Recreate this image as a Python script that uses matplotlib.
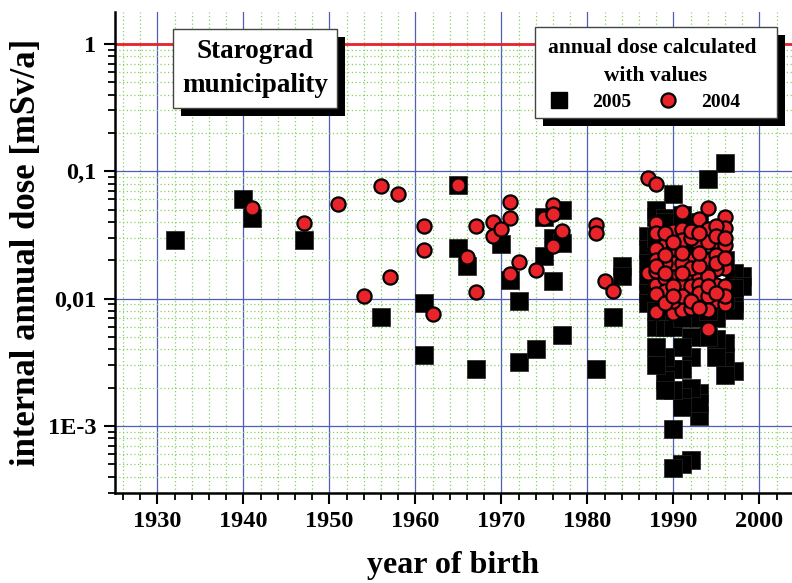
import matplotlib
matplotlib.use("Agg")
import matplotlib.pyplot as plt
import matplotlib.ticker as mticker
from matplotlib.patches import Rectangle
from matplotlib.lines import Line2D

plt.rcParams['font.family'] = ['Liberation Serif', 'DejaVu Serif']
plt.rcParams['font.weight'] = 'bold'

# annual dose calculated with 2005 values (black squares)
year_2005 = [1932, 1940, 1941, 1947, 1956, 1961, 1961, 1965, 1965, 1966, 1967,
             1970, 1971, 1972, 1972, 1974, 1975, 1975, 1976, 1976, 1977, 1977, 1977,
             1981, 1983, 1984, 1984,
             1996, 1994, 1990, 1988, 1988, 1989, 1987, 1987, 1987, 1987, 1987, 1987,
             1998, 1997, 1997, 1997, 1998,
             1997, 1996, 1996, 1996, 1995, 1995, 1994,
             1993, 1993, 1993, 1992, 1992, 1992, 1992,
             1991, 1991, 1991, 1991, 1991, 1990, 1990, 1990, 1990,
             1989, 1989, 1989, 1988, 1988, 1988, 1989, 1990,
             1988, 1989, 1990, 1991, 1992, 1993, 1994, 1995, 1996, 1996,
             1995, 1993, 1991, 1989, 1994, 1997, 1988, 1990, 1992, 1994, 1993, 1991]
dose_2005 = [0.029, 0.061, 0.043, 0.029, 0.0072, 0.0092, 0.0036, 0.078, 0.0248, 0.018, 0.0028,
             0.0268, 0.0141, 0.0095, 0.0032, 0.0040, 0.044, 0.0215, 0.030, 0.0137, 0.050, 0.0273, 0.0052,
             0.0028, 0.0072, 0.018, 0.015,
             0.117, 0.087, 0.066, 0.044, 0.050, 0.043, 0.031, 0.0245, 0.019, 0.014, 0.011, 0.0093,
             0.015, 0.0093, 0.0082, 0.016, 0.0125,
             0.0027, 0.0035, 0.0025, 0.0045, 0.0048, 0.0035, 0.005,
             0.0018, 0.0012, 0.0015, 0.005, 0.0035, 0.002, 0.00054,
             0.0042, 0.0028, 0.0017, 0.0014, 0.0005, 0.0028, 0.0019, 0.00094, 0.00047,
             0.0035, 0.0023, 0.0019, 0.0042, 0.003, 0.006, 0.006, 0.006,
             0.03, 0.04, 0.02, 0.03, 0.025, 0.015, 0.02, 0.03, 0.02, 0.01,
             0.007, 0.007, 0.007, 0.008, 0.008, 0.012, 0.008, 0.011, 0.012, 0.013, 0.04, 0.045]

# annual dose calculated with 2004 values (red circles)
year_2004 = [1941, 1947, 1951, 1954, 1956, 1957, 1958, 1961, 1961, 1962, 1965, 1966, 1967, 1967,
             1969, 1969, 1970, 1971, 1971, 1971, 1972, 1974, 1975, 1976, 1976, 1976, 1977,
             1981, 1981, 1982, 1983,
             1987, 1988, 1991, 1994, 1993, 1996, 1996, 1988, 1988, 1990, 1991, 1994, 1995,
             1989, 1988, 1988, 1987, 1988, 1988, 1990, 1991, 1992, 1995, 1996, 1994,
             1993, 1995, 1996, 1993, 1994, 1995, 1996, 1992, 1993, 1994, 1990, 1989,
             1991, 1992, 1993, 1995, 1996, 1989, 1988, 1990, 1991,
             1992, 1992, 1990, 1989, 1991, 1994, 1995, 1993, 1990, 1989, 1994, 1991,
             1992, 1994, 1996, 1988, 1990, 1992, 1994, 1993,
             1989, 1990, 1992, 1993, 1995, 1996, 1989, 1991, 1993, 1995, 1996, 1988,
             1990, 1992, 1994, 1995, 1989, 1991, 1993]
dose_2004 = [0.051, 0.039, 0.055, 0.0104, 0.077, 0.0149, 0.066, 0.0369, 0.0241, 0.0076, 0.078, 0.0212, 0.0369, 0.0112,
             0.040, 0.031, 0.035, 0.057, 0.0427, 0.0157, 0.0194, 0.0167, 0.043, 0.054, 0.046, 0.026, 0.0337,
             0.0375, 0.033, 0.0137, 0.0114,
             0.089, 0.079, 0.048, 0.051, 0.042, 0.044, 0.036, 0.039, 0.033, 0.034, 0.035, 0.0355, 0.037,
             0.0265, 0.0243, 0.0202, 0.0158, 0.0128, 0.0079, 0.0077, 0.0082, 0.0101, 0.0095, 0.009, 0.0058,
             0.0265, 0.027, 0.0265, 0.0202, 0.0202, 0.022, 0.0174, 0.0158, 0.015, 0.0158, 0.015, 0.0145,
             0.0125, 0.0125, 0.0128, 0.0128, 0.0125, 0.0114, 0.0108, 0.0243, 0.029,
             0.030, 0.020, 0.019, 0.019, 0.019, 0.028, 0.017, 0.011, 0.0095, 0.0092, 0.0105, 0.0105,
             0.0085, 0.0082, 0.0105, 0.0165, 0.0125, 0.0175, 0.015, 0.018,
             0.033, 0.028, 0.034, 0.033, 0.031, 0.030, 0.022, 0.023, 0.023, 0.019, 0.021, 0.018,
             0.0105, 0.0095, 0.0125, 0.011, 0.016, 0.016, 0.0085]

limit_dose = 1.0
ytick_vals = [1, 0.1, 0.01, 0.001]
ytick_text = ['1', '0,1', '0,01', '1E-3']

W, H = 792, 583
fig = plt.figure(figsize=(W / 100, H / 100), dpi=100)
ax = fig.add_axes([114.5 / W, 1 - 492.5 / H, 1 - 114.5 / W, 480.5 / H])

red = '#e8232a'
ax.axhline(limit_dose, color=red, lw=2.0, zorder=2)
ax.scatter(year_2005, dose_2005, marker='s', s=13.0 ** 2, color='black',
           edgecolors='#222222', linewidths=0.5, zorder=3)
ax.scatter(year_2004, dose_2004, marker='o', s=10.2 ** 2, color=red,
           edgecolors='black', linewidths=1.6, zorder=4)

ax.set_yscale('log')
ax.set_xlim(1925, 2003.8)
ax.set_ylim(3.0e-4, 1.78)

ax.xaxis.set_major_locator(mticker.MultipleLocator(10))
ax.xaxis.set_minor_locator(mticker.MultipleLocator(2))
ax.yaxis.set_major_locator(mticker.FixedLocator(ytick_vals))
ax.yaxis.set_major_formatter(mticker.FixedFormatter(ytick_text))
ax.yaxis.set_minor_locator(mticker.LogLocator(base=10, subs=range(2, 10), numticks=20))
ax.yaxis.set_minor_formatter(mticker.NullFormatter())

ax.grid(True, which='major', color='#4f5fb3', lw=0.9, ls='-')
ax.grid(True, which='minor', color='#86d060', lw=0.9, ls=(0, (1, 2)))
ax.set_axisbelow(True)

for side in ['top', 'right']:
    ax.spines[side].set_visible(False)
for side in ['left', 'bottom']:
    ax.spines[side].set_linewidth(1.8)
ax.tick_params(which='major', direction='out', length=8, width=1.5, labelsize=17.5, pad=5)
ax.tick_params(which='minor', direction='out', length=5, width=1.3)
for lab in ax.get_xticklabels() + ax.get_yticklabels():
    lab.set_fontweight('bold')

ax.set_xlabel('year of birth', fontsize=23, fontweight='bold', va='center')
ax.xaxis.set_label_coords(0.5, (492.5 - 565) / 480.5)
ax.set_ylabel('internal annual dose [mSv/a]', fontsize=25, fontweight='bold', va='center')
ax.yaxis.set_label_coords((27 - 114.5) / 677.5, 0.5)


def box(x0, y0, x1, y1, off=8):
    # shadow then white box, pixel coords from top-left
    sh = Rectangle(((x0 + off) / W, 1 - (y1 + off) / H), (x1 - x0) / W, (y1 - y0) / H,
                   transform=fig.transFigure, facecolor='black', edgecolor='none', zorder=5)
    bx = Rectangle((x0 / W, 1 - y1 / H), (x1 - x0) / W, (y1 - y0) / H,
                   transform=fig.transFigure, facecolor='white', edgecolor='#444444',
                   lw=1.0, zorder=6)
    fig.patches.extend([sh, bx])


box(173, 29, 337, 108)
fig.text(255 / W, 1 - 52 / H, 'Starograd', ha='center', va='center',
         fontsize=19.5, fontweight='bold', zorder=7)
fig.text(255 / W, 1 - 86 / H, 'municipality', ha='center', va='center',
         fontsize=19.5, fontweight='bold', zorder=7)

box(535, 27, 777, 118)
fig.text(652 / W, 1 - 48 / H, 'annual dose calculated', ha='center', va='center',
         fontsize=15.5, fontweight='bold', zorder=7)
fig.text(656 / W, 1 - 76 / H, 'with values', ha='center', va='center',
         fontsize=15.5, fontweight='bold', zorder=7)
handles = [Line2D([], [], ls='none', marker='s', markersize=12, color='black'),
           Line2D([], [], ls='none', marker='o', markersize=10.2, markerfacecolor=red,
                  markeredgecolor='black', markeredgewidth=1.6)]
leg = fig.legend(handles, ['2005', '2004'], ncol=2, frameon=False,
                 loc='center', bbox_to_anchor=(645 / W, 1 - 102 / H),
                 prop={'size': 14, 'weight': 'bold'},
                 handlelength=1.0, handletextpad=1.2, columnspacing=1.4,
                 borderpad=0.0, borderaxespad=0.0)
leg.set_zorder(8)

fig.savefig('out.png', dpi=100)
